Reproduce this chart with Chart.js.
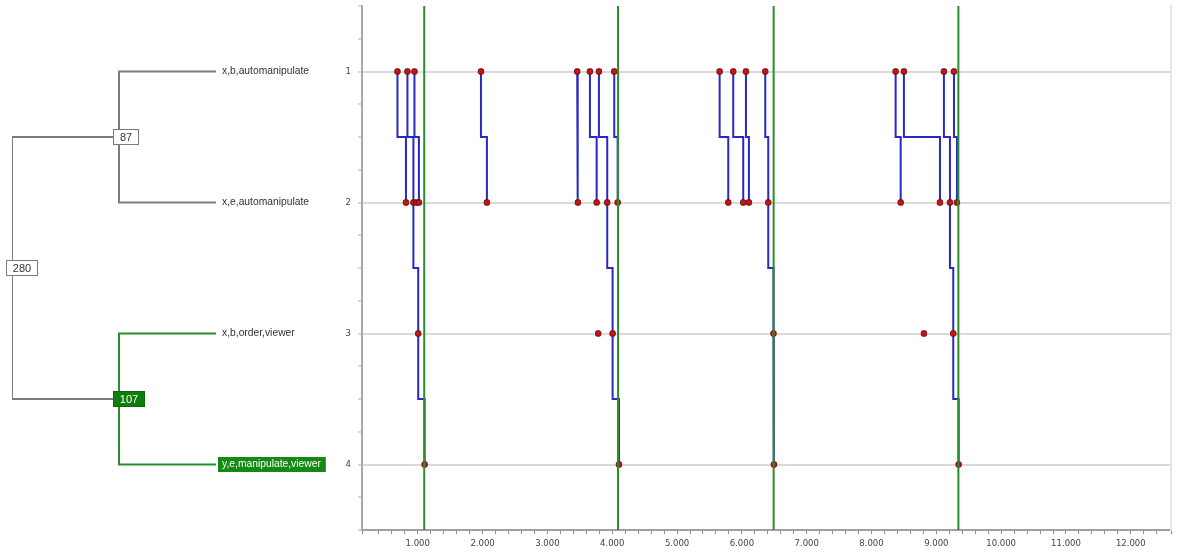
<!DOCTYPE html>
<html><head><meta charset="utf-8">
<script src="https://cdn.jsdelivr.net/npm/chart.js@4/dist/chart.umd.min.js"></script>
<style>
html,body{margin:0;padding:0;background:#fff;width:1180px;height:558px;overflow:hidden}
#tree{position:absolute;left:0;top:0;width:330px;height:558px}
#main{position:absolute;left:300px;top:0;width:880px;height:558px}
</style></head><body>
<div id="tree"><canvas id="c1"></canvas></div>
<div id="main"><canvas id="c2"></canvas></div>
<script>
// ---------- data ----------
const levelNames = ['x,b,automanipulate','x,e,automanipulate','x,b,order,viewer','y,e,manipulate,viewer'];
const levelValues = [1, 2, 3, 4];
const yTickLabels = ['1', '2', '3', '4'];
const xTickLabels = ['1.000','2.000','3.000','4.000','5.000','6.000','7.000','8.000','9.000','10.000','11.000','12.000'];

const level1Times = [687, 841, 949, 1975, 3460, 3656, 3795, 4031, 5657, 5867, 6063, 6361, 8372, 8500, 9117, 9272];
const level2Times = [818, 933, 980, 1018, 2067, 3471, 3760, 3923, 4084, 5790, 6021, 6109, 6407, 8450, 9056, 9210, 9318];
const level3Times = [1007, 3784, 4006, 6488, 8809, 9261];
const level4Times = [1106, 4104, 6495, 9344];
const markerTimes = [1100, 4090, 6490, 9340];

// links: [fromTime, fromLevel, toTime, toLevel]
const links = [
  [687,1,818,2],[841,1,933,2],[949,1,1018,2],[933,2,1007,3],[1007,3,1106,4],
  [1975,1,2067,2],
  [3460,1,3471,2],[3656,1,3760,2],[3795,1,3923,2],[4031,1,4084,2],[3923,2,4006,3],[4006,3,4104,4],
  [5657,1,5790,2],[5867,1,6021,2],[6063,1,6109,2],[6361,1,6407,2],[6407,2,6488,3],[6488,3,6495,4],
  [8372,1,8450,2],[8500,1,9056,2],[9117,1,9210,2],[9272,1,9318,2],[9210,2,9261,3],[9261,3,9344,4]
];

// dendrogram
const leafDepth = 1.907;
const nodeNames = ['87', '107', '280'];
const nodeLevels = [1.5, 3.5, 2.5];
const nodeDepths = [1, 1, 0];
const nodeChildLevels = [[1, 2], [3, 4], [1.5, 3.5]];
const nodeChildDepths = [[leafDepth, leafDepth], [leafDepth, leafDepth], [1, 1]];
const nodeHighlighted = [false, true, false];
const leafHighlighted = [false, false, false, true];

const yMin = 0.5, yMax = 4.5;
const GREEN = '#2a8c2a', GRAY = '#7d7d7d';

// ---------- main chart ----------
const eventPoints = [];
[level1Times, level2Times, level3Times, level4Times].forEach((arr, i) =>
  arr.forEach(t => eventPoints.push({x: t, y: levelValues[i]})));
const linkPath = [];
links.forEach(([x1, y1, x2, y2]) => {
  const m = (y1 + y2) / 2;
  linkPath.push({x: x1, y: y1}, {x: x1, y: m}, {x: x2, y: m}, {x: x2, y: y2}, {x: x2, y: null});
});
const markerPath = [];
markerTimes.forEach(t => markerPath.push({x: t, y: yMin}, {x: t, y: yMax}, {x: t, y: null}));

const tickFont = {family: 'DejaVu Sans', size: 8.5};

new Chart(document.getElementById('c2'), {
  type: 'line',
  data: {datasets: [
    {data: markerPath, borderColor: GREEN, borderWidth: 2, pointRadius: 0, spanGaps: false, order: 0},
    {data: eventPoints, showLine: false, pointStyle: 'rectRounded', pointRadius: 3.1,
     pointBackgroundColor: '#c81414', pointBorderColor: '#6e0a0a', pointBorderWidth: 1, order: 1},
    {data: linkPath, borderColor: '#2828c8', borderWidth: 2, pointRadius: 0, spanGaps: false, order: 2}
  ]},
  options: {
    animation: false, responsive: true, maintainAspectRatio: false,
    layout: {padding: {left: 0, right: 9, top: 6, bottom: 0}},
    plugins: {legend: {display: false}, tooltip: {enabled: false}},
    scales: {
      x: {type: 'linear', min: 140, max: 12620,
        ticks: {stepSize: 200, autoSkip: false, maxRotation: 0, minRotation: 0, padding: 5, color: '#444444', font: tickFont,
          callback: v => { const r = Math.round(v); return (r % 1000 === 0 && r > 0) ? xTickLabels[r / 1000 - 1] : ''; }},
        grid: {drawOnChartArea: false, tickLength: 4, tickColor: '#8a8a8a', tickWidth: 1},
        border: {color: '#a0a0a0', width: 2},
        afterFit(s) { s.height = 28; s.paddingLeft = 0; s.paddingRight = 0; }
      },
      y: {type: 'linear', min: yMin, max: yMax, reverse: true,
        ticks: {stepSize: 0.25, autoSkip: false, padding: 7, color: '#444444', font: tickFont,
          callback: v => Number.isInteger(v) ? yTickLabels[levelValues.indexOf(v)] : ''},
        grid: {color: c => (c.tick && Number.isInteger(c.tick.value)) ? '#dadada' : 'rgba(0,0,0,0)',
          lineWidth: 2, tickColor: '#b0b0b0', tickWidth: 1, tickLength: 4},
        border: {color: '#a8a8a8', width: 2},
        afterFit(s) { s.width = 62; s.paddingTop = 0; s.paddingBottom = 0; }
      },
      y2: {type: 'linear', position: 'right', min: yMin, max: yMax, display: true,
        ticks: {display: false}, grid: {drawOnChartArea: false, drawTicks: false},
        border: {color: '#e6e6e6', width: 2},
        afterFit(s) { s.width = 0; s.paddingTop = 0; s.paddingBottom = 0; }
      }
    }
  }
});

// ---------- dendrogram chart ----------
const treeSets = nodeNames.map((n, i) => ({
  data: [
    {x: nodeChildDepths[i][0], y: nodeChildLevels[i][0]},
    {x: nodeDepths[i], y: nodeChildLevels[i][0]},
    {x: nodeDepths[i], y: nodeChildLevels[i][1]},
    {x: nodeChildDepths[i][1], y: nodeChildLevels[i][1]}
  ],
  borderColor: nodeHighlighted[i] ? GREEN : GRAY, borderWidth: 2, pointRadius: 0
}));

const treeLabels = {
  id: 'treeLabels',
  afterDatasetsDraw(chart) {
    const ctx = chart.ctx, xs = chart.scales.x, ys = chart.scales.y;
    ctx.save();
    // leaves
    ctx.font = '10.3px "Liberation Sans", Arial, sans-serif';
    ctx.textBaseline = 'middle';
    levelNames.forEach((name, i) => {
      const px = xs.getPixelForValue(leafDepth), py = ys.getPixelForValue(levelValues[i]);
      if (leafHighlighted[i]) {
        const w = ctx.measureText(name).width;
        ctx.fillStyle = '#138a13';
        ctx.fillRect(Math.round(px) + 2, Math.round(py) - 8, w + 9, 15);
        ctx.fillStyle = '#ffffff';
      } else {
        ctx.fillStyle = '#333333';
      }
      ctx.textAlign = 'left';
      ctx.fillText(name, px + 6, py);
    });
    // nodes
    ctx.font = '11px "Liberation Sans", Arial, sans-serif';
    nodeNames.forEach((n, i) => {
      const px = xs.getPixelForValue(nodeDepths[i]), py = ys.getPixelForValue(nodeLevels[i]);
      const w = Math.round(ctx.measureText(n).width + 13);
      const left = Math.round(px) - 5.5, top = Math.round(py) - 7.5;
      ctx.fillStyle = nodeHighlighted[i] ? '#0e7d0e' : '#ffffff';
      ctx.strokeStyle = nodeHighlighted[i] ? '#0a6a0a' : '#7a7a7a';
      ctx.lineWidth = 1;
      ctx.fillRect(left, top, w, 15);
      ctx.strokeRect(left, top, w, 15);
      ctx.fillStyle = nodeHighlighted[i] ? '#ffffff' : '#333333';
      ctx.textAlign = 'center';
      ctx.fillText(n, left + w / 2, py + 0.5);
    });
    ctx.restore();
  }
};

new Chart(document.getElementById('c1'), {
  type: 'line',
  data: {datasets: treeSets},
  options: {
    animation: false, responsive: true, maintainAspectRatio: false,
    layout: {padding: {left: 12, right: 0, top: 6, bottom: 28}},
    plugins: {legend: {display: false}, tooltip: {enabled: false}},
    scales: {
      x: {type: 'linear', min: 0, max: 2.972, display: false},
      y: {type: 'linear', min: yMin, max: yMax, reverse: true, display: false}
    }
  },
  plugins: [treeLabels]
});
</script>
</body></html>
